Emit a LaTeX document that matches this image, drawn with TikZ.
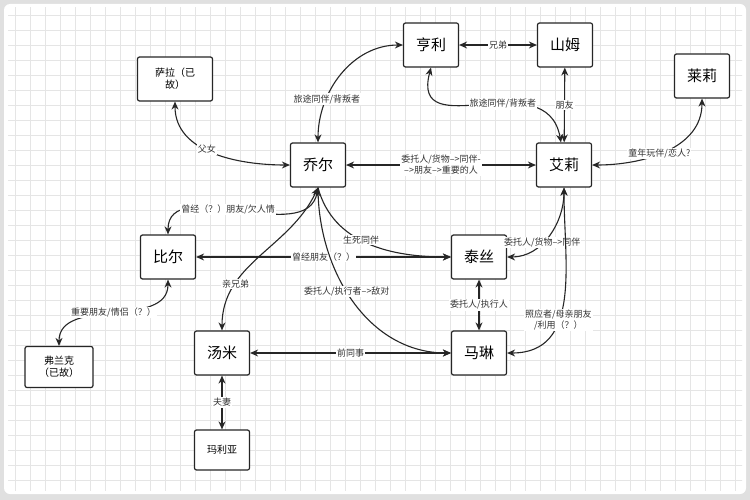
\documentclass[tikz,border=0pt]{standalone}
\usepackage{fontspec}
\setmainfont{Noto Sans CJK SC}
\usetikzlibrary{arrows.meta}
\begin{document}
\begin{tikzpicture}[x=1pt,y=-1pt,
  box/.style={draw=black!85,line width=1.2pt,rounded corners=2pt,fill=white,minimum width=55pt,minimum height=44pt,font=\fontsize{15}{17}\selectfont,align=center},
  sbox/.style={box,font=\fontsize{10}{12}\selectfont},
  rel/.style={line width=1.1pt,draw=black!85,{Stealth[length=8pt,width=7pt]}-{Stealth[length=8pt,width=7pt]}},
  one/.style={line width=1.1pt,draw=black!85,-{Stealth[length=8pt,width=7pt]}},
  lab/.style={fill=white,inner sep=1pt,font=\fontsize{9}{11}\selectfont,text=black!80,align=center}]
\useasboundingbox (0,0) rectangle (750,500);
\fill[black!12] (0,0) rectangle (750,500);
\fill[white,rounded corners=6pt] (4,4) rectangle (746,494);
\begin{scope}
\clip (8,8) rectangle (742,490);
\foreach \i in {0,15,...,750} \draw[black!10,line width=0.5pt] (\i,0) -- (\i,500);
\foreach \j in {0,15,...,500} \draw[black!10,line width=0.5pt] (0,\j) -- (750,\j);
\end{scope}
\node[box] (henry) at (431,45) {亨利};
\node[box] (sam) at (565,45) {山姆};
\node[sbox,minimum width=75pt] (sarah) at (175,79) {萨拉（已\\故）};
\node[box] (riley) at (702,76) {莱莉};
\node[box] (joel) at (318,165) {乔尔};
\node[box] (ellie) at (564,165) {艾莉};
\node[box] (bill) at (168,257) {比尔};
\node[box] (tess) at (479,257) {泰丝};
\node[box] (tommy) at (222,353) {汤米};
\node[box] (marlene) at (479,353) {马琳};
\node[sbox,minimum width=68pt,minimum height=41pt] (frank) at (59,367) {弗兰克\\（已故）};
\node[sbox,minimum height=40pt] (maria) at (222,450) {玛利亚};
\coordinate (en) at ([xshift=-3pt]ellie.north);

\draw[rel] (sarah.south) to[out=-90,in=180] node[lab,pos=0.45] {父女} (joel.west);
\draw[rel] (joel.north) to[out=90,in=180] node[lab,pos=0.3] {旅途同伴/背叛者} (henry.west);
\draw[rel] (henry) -- node[lab] {兄弟} (sam);
\draw[rel] (henry.south) to[out=-105,in=100,looseness=1.4] node[lab,pos=0.6] {旅途同伴/背叛者} (en);
\draw[rel] (sam) -- node[lab] {朋友} (ellie);
\draw[rel] (ellie.east) to[out=0,in=-90] node[lab,pos=0.45] {童年玩伴/恋人?} (riley.south);
\draw[rel] (joel) -- node[lab] {委托人/货物-->同伴-\\-->朋友-->重要的人} (ellie);
\draw[rel] (bill.north) to[out=90,in=-100] node[lab,pos=0.45] {曾经（？）朋友/欠人情} (joel.south);
\draw[rel] (bill) -- node[lab,pos=0.5] {曾经朋友（？）} (tess);
\draw[one] (joel.south) to[out=-75,in=180] node[lab,pos=0.45] {生死同伴} (tess.west);
\draw[rel] (joel.south) to[out=-115,in=90] node[lab,pos=0.72] {亲兄弟} (tommy.north);
\draw[one] (joel.south) to[out=-90,in=180] node[lab,pos=0.45] {委托人/执行者-->敌对} (marlene.west);
\draw[rel] (ellie.south) to[out=-90,in=0] node[lab,pos=0.6] {委托人/货物-->同伴} (tess.east);
\draw[rel] (ellie.south) to[out=-90,in=0,looseness=1.1] node[lab,pos=0.62] {照应者/母亲朋友\\/利用（？）} (marlene.east);
\draw[rel] (tess) -- node[lab] {委托人/执行人} (marlene);
\draw[rel] (tommy) -- node[lab] {前同事} (marlene);
\draw[rel] (tommy) -- node[lab] {夫妻} (maria);
\draw[rel] (bill.south) to[out=-90,in=90] node[lab,pos=0.5] {重要朋友/情侣（？）} (frank.north);
\end{tikzpicture}
\end{document}
